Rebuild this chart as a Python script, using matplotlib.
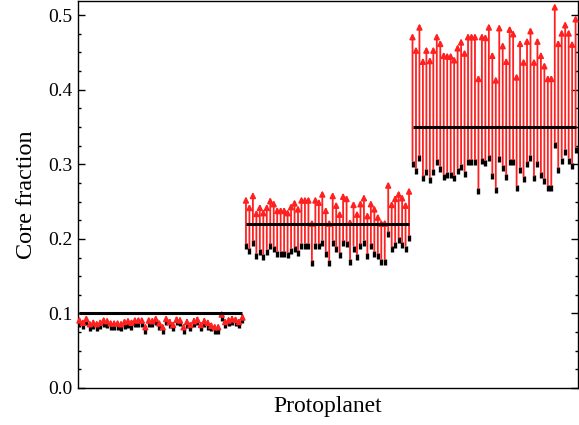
import numpy as np
import matplotlib.pyplot as plt

plt.rcParams['font.family'] = ['Liberation Serif', 'DejaVu Serif']

# core fraction of each protoplanet: before (start) and after (end)
start_1 = [0.086, 0.083, 0.088, 0.080, 0.083, 0.080, 0.083, 0.086, 0.085, 0.082,
           0.082, 0.082, 0.081, 0.083, 0.085, 0.082, 0.086, 0.086, 0.086, 0.076,
           0.086, 0.086, 0.088, 0.082, 0.076, 0.088, 0.085, 0.080, 0.088, 0.087,
           0.077, 0.085, 0.080, 0.086, 0.088, 0.080, 0.086, 0.082, 0.080, 0.077,
           0.077, 0.094, 0.085, 0.087, 0.089, 0.087, 0.085, 0.091]
end_1 = [0.096, 0.093, 0.098, 0.091, 0.093, 0.091, 0.093, 0.096, 0.095, 0.092,
         0.092, 0.092, 0.091, 0.094, 0.095, 0.093, 0.096, 0.096, 0.096, 0.087,
         0.096, 0.095, 0.098, 0.092, 0.087, 0.098, 0.094, 0.090, 0.097, 0.096,
         0.087, 0.094, 0.090, 0.095, 0.097, 0.090, 0.095, 0.093, 0.089, 0.087,
         0.087, 0.104, 0.094, 0.096, 0.098, 0.097, 0.094, 0.100]

start_2 = [0.190, 0.184, 0.194, 0.177, 0.183, 0.176, 0.183, 0.190, 0.186, 0.180,
           0.180, 0.180, 0.178, 0.184, 0.186, 0.181, 0.191, 0.191, 0.191, 0.167,
           0.191, 0.190, 0.195, 0.180, 0.168, 0.195, 0.186, 0.178, 0.194, 0.193,
           0.169, 0.187, 0.176, 0.190, 0.195, 0.177, 0.190, 0.180, 0.177, 0.169,
           0.169, 0.206, 0.186, 0.192, 0.198, 0.192, 0.187, 0.201]
end_2 = [0.257, 0.247, 0.263, 0.239, 0.247, 0.240, 0.247, 0.256, 0.252, 0.243,
         0.243, 0.243, 0.240, 0.248, 0.253, 0.245, 0.257, 0.257, 0.257, 0.226,
         0.257, 0.254, 0.265, 0.243, 0.226, 0.263, 0.250, 0.238, 0.262, 0.259,
         0.227, 0.251, 0.238, 0.252, 0.260, 0.236, 0.252, 0.245, 0.234, 0.226,
         0.226, 0.277, 0.251, 0.259, 0.265, 0.260, 0.250, 0.269]

start_3 = [0.301, 0.291, 0.308, 0.281, 0.290, 0.279, 0.290, 0.303, 0.294, 0.283,
           0.286, 0.286, 0.282, 0.291, 0.297, 0.287, 0.303, 0.303, 0.303, 0.264,
           0.304, 0.302, 0.308, 0.284, 0.265, 0.307, 0.295, 0.283, 0.303, 0.303,
           0.268, 0.293, 0.280, 0.300, 0.309, 0.281, 0.300, 0.285, 0.278, 0.268,
           0.268, 0.326, 0.292, 0.305, 0.317, 0.305, 0.298, 0.319]
end_3 = [0.476, 0.458, 0.489, 0.443, 0.458, 0.444, 0.458, 0.476, 0.467, 0.451,
         0.450, 0.450, 0.445, 0.461, 0.469, 0.454, 0.476, 0.476, 0.476, 0.420,
         0.476, 0.475, 0.489, 0.451, 0.418, 0.488, 0.464, 0.443, 0.486, 0.480,
         0.422, 0.467, 0.442, 0.470, 0.484, 0.442, 0.470, 0.451, 0.437, 0.420,
         0.420, 0.516, 0.467, 0.481, 0.492, 0.481, 0.466, 0.500]

group_levels = [0.10, 0.22, 0.35]

start = np.array(start_1 + start_2 + start_3)
end = np.array(end_1 + end_2 + end_3)
idx = np.arange(len(start))
n = len(start_1)

fig = plt.figure(figsize=(5.79, 4.25), dpi=100)
ax = fig.add_axes([77.5 / 579, 37 / 425, 500 / 579, 387 / 425])

# black marks under the arrows so the short arrows stay red
ax.plot(idx, start, ls='none', marker='|', ms=5, mew=2.4, color='black', zorder=2)
for x, s, e in zip(idx, start, end):
    ax.annotate('', xy=(x, e), xytext=(x, s), zorder=3,
                arrowprops=dict(arrowstyle='-|>', color='#ff2020', lw=1.3,
                                shrinkA=2, shrinkB=0, mutation_scale=8))

for g, level in enumerate(group_levels):
    ax.hlines(level, g * n, g * n + n - 1, color='black', lw=2.2, zorder=4)

ax.set_xlim(-0.55, len(start) - 0.45)
ax.set_ylim(0, 0.519)
ax.set_xticks([])
ax.set_yticks(np.arange(0, 0.51, 0.1))
ax.set_yticks(np.arange(0, 0.52, 0.025), minor=True)
ax.tick_params(axis='y', which='both', direction='in', left=True, right=True,
               labelsize=14)
ax.tick_params(axis='y', which='major', length=5, width=1)
ax.tick_params(axis='y', which='minor', length=2.5, width=1)
ax.yaxis.set_major_formatter(plt.FormatStrFormatter('%.1f'))
for sp in ax.spines.values():
    sp.set_linewidth(1.0)

ax.set_xlabel('Protoplanet', fontsize=17, labelpad=6)
ax.set_ylabel('Core fraction', fontsize=17.5, labelpad=8)

fig.savefig('out.png', dpi=100)
